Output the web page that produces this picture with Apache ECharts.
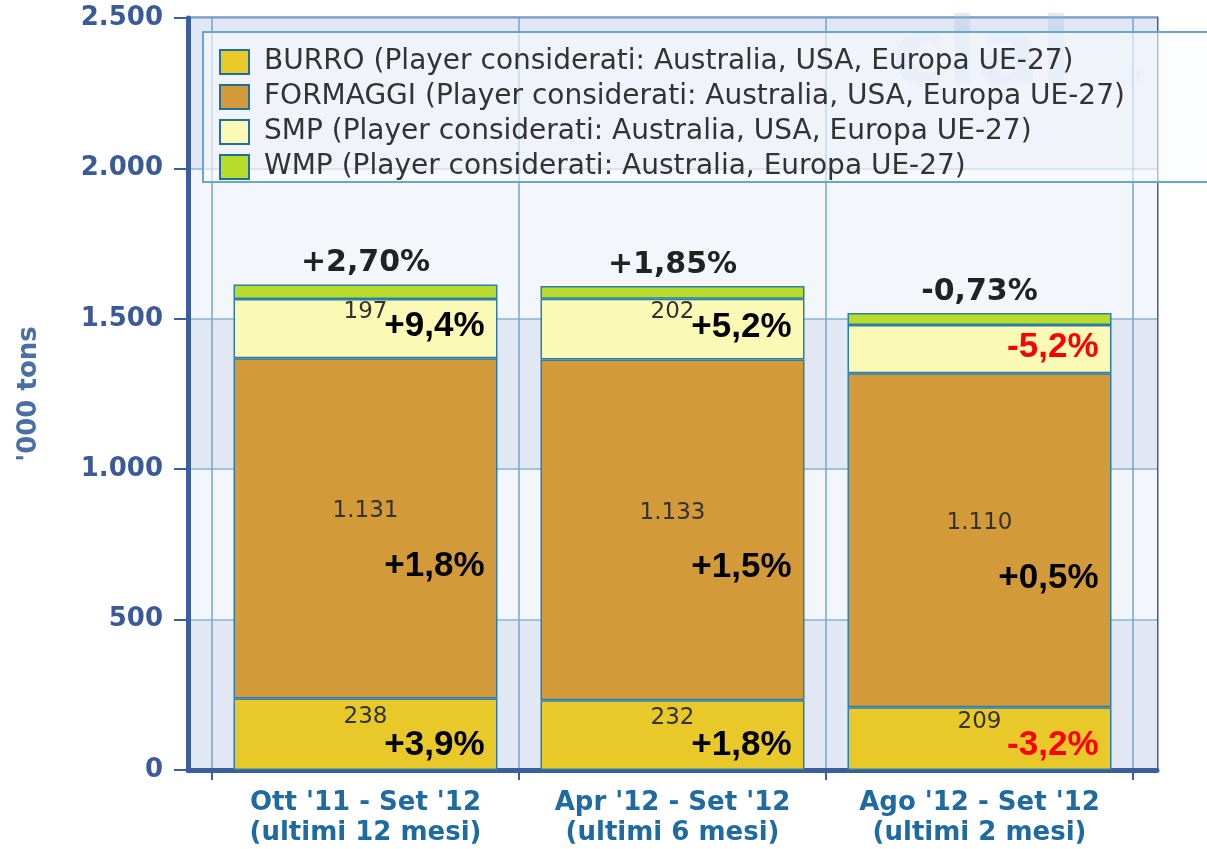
<!DOCTYPE html>
<html>
<head>
<meta charset="utf-8">
<script src="https://cdn.jsdelivr.net/npm/echarts@6/dist/echarts.min.js"></script>
<style>
html, body { margin: 0; padding: 0; background: #fff; }
#main { width: 1207px; height: 849px; }
</style>
</head>
<body>
<div id="main"></div>
<script>
var categories = ["Ott '11 - Set '12\n(ultimi 12 mesi)", "Apr '12 - Set '12\n(ultimi 6 mesi)", "Ago '12 - Set '12\n(ultimi 2 mesi)"];
var seriesNames = [
  'BURRO (Player considerati: Australia, USA, Europa UE-27)',
  'FORMAGGI (Player considerati: Australia, USA, Europa UE-27)',
  'SMP (Player considerati: Australia, USA, Europa UE-27)',
  'WMP (Player considerati: Australia, Europa UE-27)'
];
var burro = [238, 232, 209];
var formaggi = [1131, 1133, 1110];
var smp = [197, 202, 160];
var wmp = [48, 42, 40];
var smpShowValue = [true, true, false];

var pctBurro = ['+3,9%', '+1,8%', '-3,2%'];
var pctFormaggi = ['+1,8%', '+1,5%', '+0,5%'];
var pctSmp = ['+9,4%', '+5,2%', '-5,2%'];
var pctTotal = ['+2,70%', '+1,85%', '-0,73%'];

var yMin = 0, yMax = 2500, yStep = 500;

var colors = ['#e9c92a', '#d29a38', '#fafab6', '#b9dc2c'];
var frameColor = '#3d5e9e';

function fmt(v) {
  return String(v).replace(/\B(?=(\d{3})+(?!\d))/g, '.');
}

function pctLabel(arr) {
  return function (p) {
    var s = arr[p.dataIndex];
    return s.charAt(0) === '-' ? '{n|' + s + '}' : '{p|' + s + '}';
  };
}

var pctRich = {
  p: { color: '#000', fontFamily: 'Liberation Sans', fontWeight: 'bold', fontSize: 35 },
  n: { color: '#ff0000', fontFamily: 'Liberation Sans', fontWeight: 'bold', fontSize: 35 }
};

var valueLabel = {
  show: true,
  position: 'inside',
  offset: [0, -17],
  color: '#333',
  fontFamily: 'DejaVu Sans',
  fontSize: 23
};

function stackSeries(name, data, color, label) {
  return {
    name: name,
    type: 'bar',
    xAxisIndex: 1,
    yAxisIndex: 1,
    stack: 'tot',
    barWidth: 264,
    barGap: '-100%',
    data: data,
    itemStyle: { color: color, borderColor: '#2d7ea6', borderWidth: 1.5 },
    label: label
  };
}

function pctSeries(data, label) {
  return {
    type: 'bar',
    xAxisIndex: 1,
    yAxisIndex: 1,
    stack: 'pct',
    barWidth: 264,
    barGap: '-100%',
    silent: true,
    z: 5,
    data: data,
    itemStyle: { color: 'rgba(0,0,0,0)' },
    label: label
  };
}

var myChart = echarts.init(document.getElementById('main'));

var option = {
  animation: false,
  grid: [
    { left: 188, right: 50, top: 18, bottom: 79, show: true, borderColor: frameColor, borderWidth: 3 },
    { left: 212, right: 74, top: 18, bottom: 79 }
  ],
  graphic: [
    {
      type: 'text', left: 892, top: 14, z: 1, silent: true,
      style: { text: 'clal', fill: 'rgba(160,188,225,0.3)', font: 'bold 92px "DejaVu Sans"' }
    },
    {
      type: 'text', left: 1120, top: 68, z: 1, silent: true,
      style: { text: '.it', fill: 'rgba(160,188,225,0.3)', font: 'bold 20px "DejaVu Sans"' }
    },
    {
      type: 'rect', z: 2, silent: true,
      shape: { x: 203, y: 32, width: 1012, height: 150 },
      style: { fill: 'rgba(250,252,255,0.6)', stroke: '#6aa6c8', lineWidth: 2 }
    }
  ],
  legend: {
    orient: 'vertical',
    left: 219,
    top: 48,
    padding: 0,
    icon: 'rect',
    itemWidth: 29,
    itemHeight: 24,
    itemGap: 7,
    z: 10,
    data: seriesNames,
    itemStyle: { borderColor: '#1f6f99', borderWidth: 2 },
    textStyle: { fontFamily: 'DejaVu Sans', fontSize: 28, color: '#333', padding: [0, 0, 0, 10] }
  },
  xAxis: [
    {
      gridIndex: 0, type: 'value', min: 0, max: 1,
      axisLine: { show: true, lineStyle: { color: frameColor, width: 5 } },
      axisTick: { show: false }, axisLabel: { show: false }, splitLine: { show: false }
    },
    {
      gridIndex: 1, type: 'category', data: categories,
      axisLine: { show: false },
      axisTick: { show: true, interval: 0, length: 10, lineStyle: { color: frameColor, width: 2 } },
      axisLabel: {
        interval: 0, color: '#1f6b9f', fontFamily: 'DejaVu Sans', fontWeight: 'bold',
        fontSize: 26, lineHeight: 30, margin: 18
      },
      splitLine: { show: true, interval: 0, lineStyle: { color: '#6fa9cb', width: 1.5 } }
    }
  ],
  yAxis: [
    {
      gridIndex: 0, type: 'value', min: yMin, max: yMax, interval: yStep,
      name: "'000 tons", nameLocation: 'middle', nameRotate: 90, nameGap: 146,
      nameTextStyle: { color: '#4a6fa5', fontFamily: 'DejaVu Sans', fontWeight: 'bold', fontSize: 26 },
      axisLine: { show: true, lineStyle: { color: frameColor, width: 5 } },
      axisTick: { show: true, length: 14, lineStyle: { color: frameColor, width: 2 } },
      axisLabel: {
        color: '#3c5a98', fontFamily: 'DejaVu Sans', fontWeight: 'bold', fontSize: 26,
        margin: 25, formatter: fmt
      },
      splitLine: { show: true, lineStyle: { color: '#86b6d3', width: 1.5 } },
      splitArea: { show: true, areaStyle: { color: ['#e1e8f3', '#f3f6fb'] } }
    },
    { gridIndex: 1, type: 'value', min: yMin, max: yMax, interval: yStep, show: false }
  ],
  series: [
    stackSeries(seriesNames[0], burro, colors[0], Object.assign({}, valueLabel, { formatter: function (p) { return fmt(p.value); } })),
    stackSeries(seriesNames[1], formaggi, colors[1], Object.assign({}, valueLabel, { formatter: function (p) { return fmt(p.value); } })),
    stackSeries(seriesNames[2], smp, colors[2], Object.assign({}, valueLabel, { formatter: function (p) { return smpShowValue[p.dataIndex] ? fmt(p.value) : ''; } })),
    stackSeries(seriesNames[3], wmp, colors[3], {
      show: true, position: 'top', distance: 6,
      color: '#222', fontFamily: 'DejaVu Sans', fontWeight: 'bold', fontSize: 30,
      formatter: function (p) { return pctTotal[p.dataIndex]; }
    }),
    pctSeries(burro, { show: true, position: 'insideBottomRight', distance: 7, offset: [-6, 0], formatter: pctLabel(pctBurro), rich: pctRich }),
    pctSeries(formaggi, { show: true, position: 'insideRight', distance: 13, offset: [0, 38], formatter: pctLabel(pctFormaggi), rich: pctRich }),
    pctSeries(smp, { show: true, position: 'insideRight', distance: 13, offset: [0, -2], formatter: pctLabel(pctSmp), rich: pctRich })
  ]
};

myChart.setOption(option);
</script>
</body>
</html>
